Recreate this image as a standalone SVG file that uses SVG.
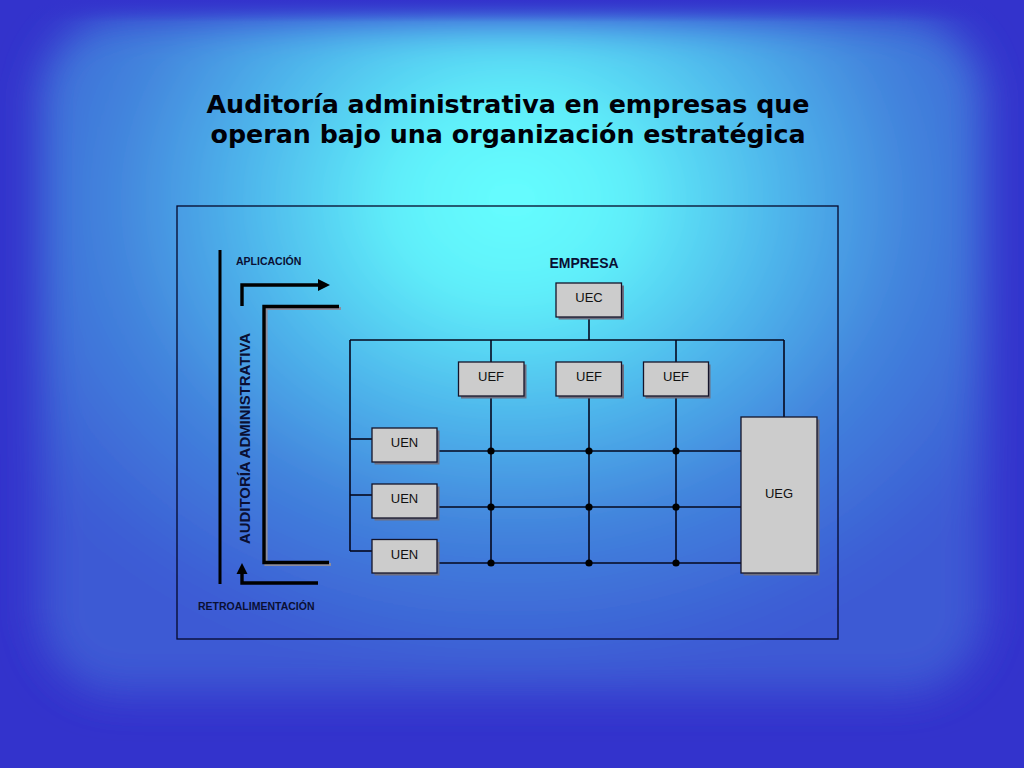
<svg xmlns="http://www.w3.org/2000/svg" width="1024" height="768" viewBox="0 0 1024 768">
<defs>
<radialGradient id="glow" gradientUnits="userSpaceOnUse" cx="512" cy="200" r="580" gradientTransform="translate(512 200) scale(1 0.82) translate(-512 -200)">
<stop offset="0" stop-color="#66FFFF"/>
<stop offset="0.2" stop-color="#60F0FA"/>
<stop offset="0.45" stop-color="#4FB8EC"/>
<stop offset="0.7" stop-color="#4282DC"/>
<stop offset="1" stop-color="#3C5AD4"/>
</radialGradient>
<filter id="soft" x="-20%" y="-20%" width="140%" height="140%">
<feGaussianBlur stdDeviation="20"/>
</filter>
<linearGradient id="topband" x1="0" y1="0" x2="0" y2="1">
<stop offset="0" stop-color="#3333CC" stop-opacity="1"/>
<stop offset="1" stop-color="#3333CC" stop-opacity="0"/>
</linearGradient>
<style>
.box{fill:#CCCCCC;stroke:#14142a;stroke-width:1.3}
.shd{fill:#6f6f80}
.lbl{font-family:"Liberation Sans",Arial,sans-serif;font-size:13px;fill:#111111;text-anchor:middle}
.bold{font-family:"Liberation Sans",Arial,sans-serif;font-weight:bold;fill:#0a0f33}
.ln{stroke:#05081e;stroke-width:1.6;fill:none}
.thick{stroke:#000000;stroke-width:3.4;fill:none}
.thickshd{stroke:#8c8c9c;stroke-width:3.2;fill:none}
.dot{fill:#000000}
</style>
</defs>

<rect x="0" y="0" width="1024" height="768" fill="#3333CC"/>
<rect x="40" y="18" width="944" height="675" rx="80" fill="url(#glow)" filter="url(#soft)"/>
<rect x="0" y="0" width="1024" height="22" fill="url(#topband)"/>

<g id="title">
<text x="508" y="113" font-family="DejaVu Sans, Verdana, sans-serif" font-weight="bold" font-size="25" fill="#000008" text-anchor="middle" textLength="603" lengthAdjust="spacingAndGlyphs">Auditoría administrativa en empresas que</text>
<text x="508" y="143" font-family="DejaVu Sans, Verdana, sans-serif" font-weight="bold" font-size="25" fill="#000008" text-anchor="middle" textLength="595" lengthAdjust="spacingAndGlyphs">operan bajo una organización estratégica</text>
</g>

<rect id="frame" x="177" y="206" width="661" height="433" fill="none" stroke="#06082a" stroke-width="1.3"/>

<g id="audit-side">
<line x1="220" y1="250" x2="220" y2="584" stroke="#000000" stroke-width="3"/>
<text class="bold" x="236" y="265" font-size="10.5">APLICACIÓN</text>
<text class="bold" x="198" y="610" font-size="10.5">RETROALIMENTACIÓN</text>
<text class="bold" transform="translate(249.5 438.5) rotate(-90)" x="0" y="0" font-size="15" text-anchor="middle" textLength="211" lengthAdjust="spacingAndGlyphs">AUDITORÍA ADMINISTRATIVA</text>
<path class="thick" d="M242,306 V285 H318"/>
<polygon points="318,279 330,285 318,291" fill="#000000"/>
<path class="thickshd" d="M341,308.5 H266 V564.5 H331"/>
<path class="thick" d="M339,306.5 H264 V562.5 H329"/>
<path class="thick" d="M318,583 H242 V574"/>
<polygon points="236.5,574 242,563 247.5,574" fill="#000000"/>
</g>

<text id="empresa" class="bold" x="584" y="268" font-size="14" text-anchor="middle">EMPRESA</text>

<g id="connectors">
<line class="ln" x1="589" y1="317" x2="589" y2="340"/>
<line class="ln" x1="350" y1="340" x2="784" y2="340"/>
<line class="ln" x1="784" y1="340" x2="784" y2="417"/>
<line class="ln" x1="350" y1="340" x2="350" y2="551"/>
<line class="ln" x1="491" y1="340" x2="491" y2="362"/>
<line class="ln" x1="676" y1="340" x2="676" y2="362"/>
<line class="ln" x1="491" y1="396" x2="491" y2="563"/>
<line class="ln" x1="589" y1="396" x2="589" y2="563"/>
<line class="ln" x1="676" y1="396" x2="676" y2="563"/>
<line class="ln" x1="350" y1="439" x2="372" y2="439"/>
<line class="ln" x1="350" y1="495" x2="372" y2="495"/>
<line class="ln" x1="350" y1="551" x2="372" y2="551"/>
<line class="ln" x1="437" y1="451" x2="741" y2="451"/>
<line class="ln" x1="437" y1="507" x2="741" y2="507"/>
<line class="ln" x1="437" y1="563" x2="741" y2="563"/>
<circle class="dot" cx="491" cy="451" r="3.6"/>
<circle class="dot" cx="589" cy="451" r="3.6"/>
<circle class="dot" cx="676" cy="451" r="3.6"/>
<circle class="dot" cx="491" cy="507" r="3.6"/>
<circle class="dot" cx="589" cy="507" r="3.6"/>
<circle class="dot" cx="676" cy="507" r="3.6"/>
<circle class="dot" cx="491" cy="563" r="3.6"/>
<circle class="dot" cx="589" cy="563" r="3.6"/>
<circle class="dot" cx="676" cy="563" r="3.6"/>
</g>

<g id="uec">
<rect class="shd" x="558.5" y="285.5" width="65.5" height="34"/>
<rect class="box" x="556" y="283" width="65.5" height="34"/>
<text class="lbl" x="589" y="302">UEC</text>
</g>
<g id="uef1">
<rect class="shd" x="461" y="364.5" width="65.5" height="34"/>
<rect class="box" x="458.5" y="362" width="65.5" height="34"/>
<text class="lbl" x="491" y="381">UEF</text>
</g>
<g id="uef2">
<rect class="shd" x="558.5" y="364.5" width="65.5" height="34"/>
<rect class="box" x="556" y="362" width="65.5" height="34"/>
<text class="lbl" x="589" y="381">UEF</text>
</g>
<g id="uef3">
<rect class="shd" x="645.5" y="364.5" width="65" height="34"/>
<rect class="box" x="643.5" y="362" width="65" height="34"/>
<text class="lbl" x="676" y="381">UEF</text>
</g>
<g id="uen1">
<rect class="shd" x="374.5" y="430.5" width="65" height="34"/>
<rect class="box" x="372" y="428" width="65" height="34"/>
<text class="lbl" x="404.5" y="447">UEN</text>
</g>
<g id="uen2">
<rect class="shd" x="374.5" y="486.5" width="65" height="34"/>
<rect class="box" x="372" y="484" width="65" height="34"/>
<text class="lbl" x="404.5" y="503">UEN</text>
</g>
<g id="uen3">
<rect class="shd" x="374.5" y="542" width="65" height="33.5"/>
<rect class="box" x="372" y="539.5" width="65" height="33.5"/>
<text class="lbl" x="404.5" y="558.5">UEN</text>
</g>
<g id="ueg">
<rect class="shd" x="743.5" y="419.5" width="76" height="156"/>
<rect class="box" x="741" y="417" width="76" height="156"/>
<text class="lbl" x="779" y="498">UEG</text>
</g>
</svg>
